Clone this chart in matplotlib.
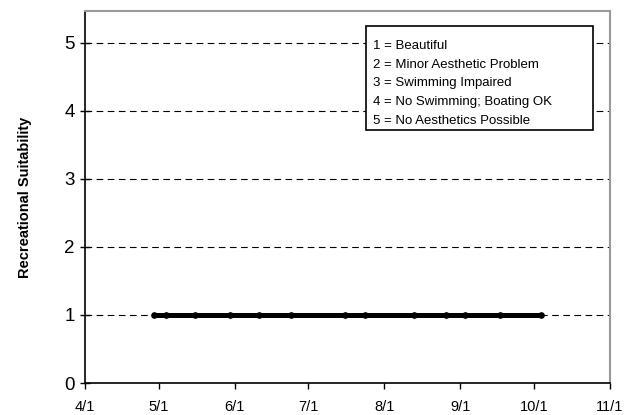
import matplotlib.pyplot as plt
import matplotlib.dates as mdates
from matplotlib.patches import Rectangle
import numpy as np
import datetime as dt

plt.rcParams['font.family'] = ['Liberation Sans', 'DejaVu Sans']

# sample dates and suitability ratings
dates = ['2003-04-29', '2003-05-04', '2003-05-16', '2003-05-30', '2003-06-11',
         '2003-06-24', '2003-07-16', '2003-07-24', '2003-08-13', '2003-08-26',
         '2003-09-03', '2003-09-17', '2003-10-04']
rating = [1, 1, 1, 1, 1, 1, 1, 1, 1, 1, 1, 1, 1]
tick_dates = ['2003-04-01', '2003-05-01', '2003-06-01', '2003-07-01',
              '2003-08-01', '2003-09-01', '2003-10-01', '2003-11-01']
tick_labels = ['4/1', '5/1', '6/1', '7/1', '8/1', '9/1', '10/1', '11/1']
scale_text = ['1 = Beautiful', '2 = Minor Aesthetic Problem', '3 = Swimming Impaired',
              '4 = No Swimming; Boating OK', '5 = No Aesthetics Possible']

x = [dt.datetime.strptime(d, '%Y-%m-%d') for d in dates]
xt = [dt.datetime.strptime(d, '%Y-%m-%d') for d in tick_dates]

fig = plt.figure(figsize=(6.41, 4.15), dpi=100)
ax = fig.add_axes([85/641, 32/415, 525/641, 372/415])

for yv in range(1, 6):
    ax.axhline(yv, color='black', lw=0.8, ls=(0, (6, 4)), zorder=1)

ax.plot(x, rating, color='black', lw=3.6, marker='o', ms=3.8, zorder=3)

ax.set_xlim(xt[0], xt[-1])
ax.set_ylim(0, 5.47)
ax.set_xticks(xt)
ax.set_xticklabels(tick_labels, fontsize=10.5)
ax.set_yticks(range(0, 6))
ax.set_yticklabels([str(v) for v in range(0, 6)], fontsize=13.5)
ax.tick_params(axis='y', direction='inout', length=7, width=1, pad=4)
ax.tick_params(axis='x', direction='out', length=4, width=1, pad=8)

ax.spines['left'].set_linewidth(1.2)
ax.spines['bottom'].set_linewidth(1.2)
ax.spines['top'].set_color('#999999')
ax.spines['right'].set_color('#999999')
ax.spines['top'].set_linewidth(1.5)
ax.spines['right'].set_linewidth(1.5)

ax.set_ylabel('Recreational Suitability', fontsize=10.5, fontweight='bold', labelpad=23)

# rating scale box
box = Rectangle((366/641, 1 - 130/415), 227/641, 104/415, transform=fig.transFigure,
                facecolor='white', edgecolor='black', lw=1.2, zorder=5)
fig.patches.append(box)
for i, s in enumerate(scale_text):
    fig.text(373/641, 1 - (46 + i*18.7)/415, s, fontsize=9.5, va='center', ha='left', zorder=6)

fig.savefig('out.png', dpi=100)
